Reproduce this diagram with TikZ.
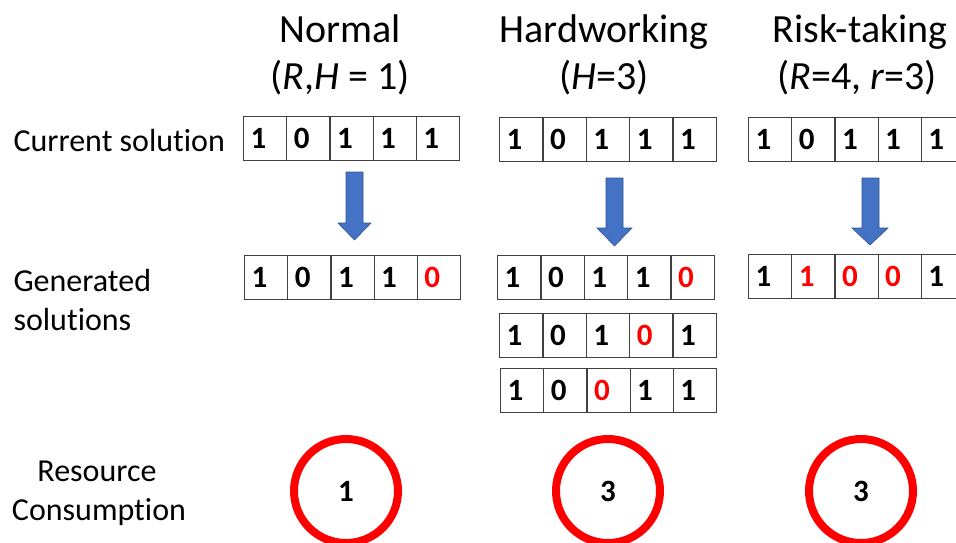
\documentclass[tikz,border=0pt]{standalone}
\usepackage{fontspec}
\setmainfont[Ligatures={NoCommon}]{Carlito}
\definecolor{arrowblue}{HTML}{4472C4}
\definecolor{arrowedge}{HTML}{2F528F}
\definecolor{cellline}{HTML}{404040}
\definecolor{ringred}{HTML}{FF0000}
\begin{document}
\begin{tikzpicture}[x=1pt,y=-1pt,
  cell/.style={draw=cellline,line width=1.2pt,anchor=north west,minimum height=44pt,
    inner xsep=7pt,inner ysep=0pt,text width=29.2pt,align=left,
    font=\fontsize{31}{33}\selectfont\bfseries},
  head/.style={anchor=base,font=\fontsize{40}{44}\selectfont},
  side/.style={anchor=base west,font=\fontsize{32}{36}\selectfont},
  ring/.style={circle,draw=ringred,line width=8pt,minimum size=104pt,inner sep=0pt,
    font=\fontsize{31}{33}\selectfont\bfseries},
  blockarrow/.style={fill=arrowblue,draw=arrowedge,line width=0.6pt}]
\useasboundingbox (0,0) rectangle (956,542);
% headings
\node[head] (hn1) at (340,42) {Normal};
\node[head] (hn2) at (340,89) {(\textit{R},\textit{H} = 1)};
\node[head] (hh1) at (604,42) {Hardworking};
\node[head] (hh2) at (604,89) {(\textit{H}=3)};
\node[head] (hr1) at (860,42) {Risk-taking};
\node[head] (hr2) at (857,89) {(\textit{R}=4, \textit{r}=3)};
% side labels
\node[side] (lc) at (10,151) {Current solution};
\node[side] (lg1) at (10,291) {Generated};
\node[side] (lg2) at (10,330) {solutions};
\node[anchor=base,font=\fontsize{32}{36}\selectfont] (lr1) at (97,481) {Resource};
\node[anchor=base,font=\fontsize{32}{36}\selectfont] (lr2) at (99,520) {Consumption};
% Normal
\foreach \d/\c [count=\i] in {1/black,0/black,1/black,1/black,1/black}
  \node[cell,text=\c] (nc-\i) at ({243+(\i-1)*43.2},116) {\d};
\foreach \d/\c [count=\i] in {1/black,0/black,1/black,1/black,0/ringred}
  \node[cell,text=\c] (ng-\i) at ({244+(\i-1)*43.2},255) {\d};
% Hardworking
\foreach \d/\c [count=\i] in {1/black,0/black,1/black,1/black,1/black}
  \node[cell,text=\c] (hc-\i) at ({499+(\i-1)*43.4},117) {\d};
\foreach \d/\c [count=\i] in {1/black,0/black,1/black,1/black,0/ringred}
  \node[cell,text=\c] (hga-\i) at ({497+(\i-1)*43.4},255) {\d};
\foreach \d/\c [count=\i] in {1/black,0/black,1/black,0/ringred,1/black}
  \node[cell,text=\c] (hgb-\i) at ({499+(\i-1)*43.4},313) {\d};
\foreach \d/\c [count=\i] in {1/black,0/black,0/ringred,1/black,1/black}
  \node[cell,text=\c] (hgc-\i) at ({500+(\i-1)*43.2},368) {\d};
% Risk-taking
\foreach \d/\c [count=\i] in {1/black,0/black,1/black,1/black,1/black}
  \node[cell,text=\c] (rc-\i) at ({748+(\i-1)*43.2},117) {\d};
\foreach \d/\c [count=\i] in {1/black,1/ringred,0/ringred,0/ringred,1/black}
  \node[cell,text=\c] (rg-\i) at ({748+(\i-1)*43.2},254) {\d};
% block arrows
\draw[blockarrow] (346,172) -- (363,172) -- (363,223) -- (371,223) -- (354.5,240)
  -- (338,223) -- (346,223) -- cycle;
\draw[blockarrow] (606,178) -- (623,178) -- (623,228) -- (632,228) -- (614.5,246)
  -- (597,228) -- (606,228) -- cycle;
\draw[blockarrow] (862,178) -- (879,178) -- (879,228) -- (888,228) -- (870,245)
  -- (852,228) -- (862,228) -- cycle;
% rings
\node[ring] (cn) at (346,491) {1};
\node[ring] (ch) at (608,491) {3};
\node[ring] (cr) at (861,491) {3};
\end{tikzpicture}
\end{document}
